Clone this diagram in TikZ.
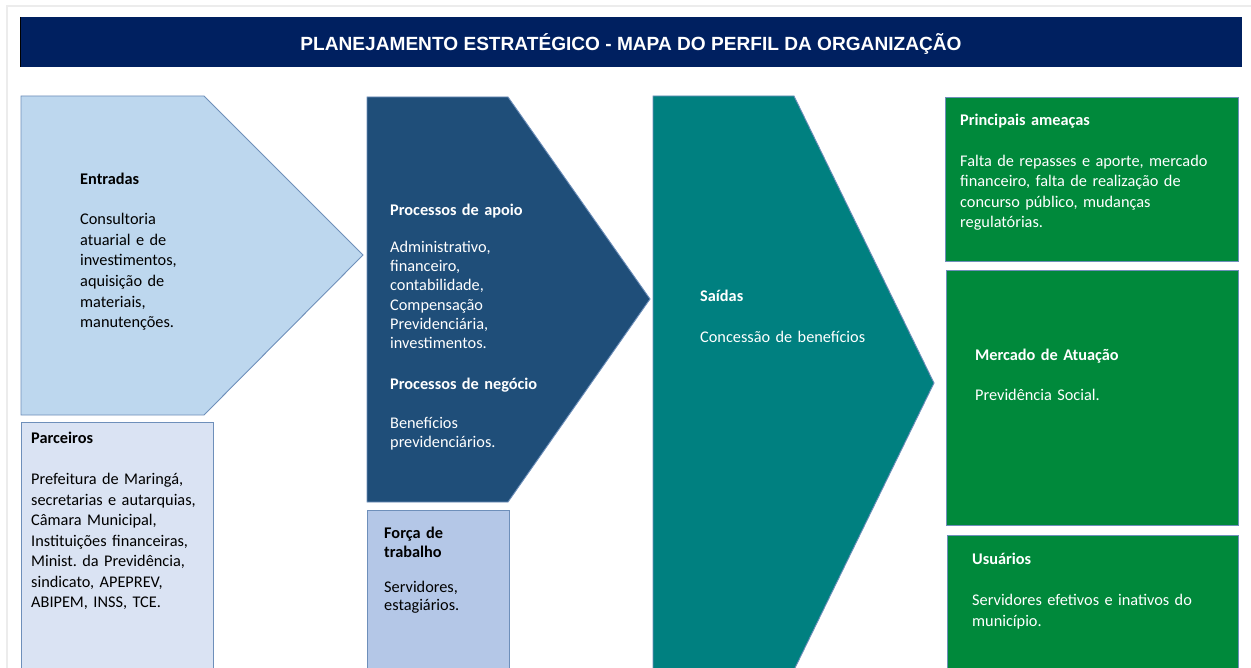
\documentclass[tikz,border=0pt]{standalone}
\usepackage{fontspec}
\setmainfont{Carlito}
\newfontfamily\titlefont{Liberation Sans}
\frenchspacing
\definecolor{titlebg}{RGB}{0,32,96}
\definecolor{bordc}{RGB}{110,143,186}
\definecolor{entfill}{RGB}{189,215,238}
\definecolor{parfill}{RGB}{218,227,243}
\definecolor{profill}{RGB}{31,78,121}
\definecolor{forfill}{RGB}{180,199,231}
\definecolor{saifill}{RGB}{0,128,128}
\definecolor{grnfill}{RGB}{0,137,59}
\definecolor{framec}{RGB}{236,236,236}
\tikzset{
  shp/.style={draw=bordc, line width=0.9pt},
  txt/.style={inner sep=0pt, anchor=base west, align=left, text width=290pt},
  dk/.style={txt, text=white},
  lt/.style={txt, text=black},
}
\begin{document}
\begin{tikzpicture}[x=1pt,y=-1pt]
\useasboundingbox[fill=white] (0,0) rectangle (1251,668);
\begin{scope}
\clip (0,0) rectangle (1251,668);
% outer frame
\draw[framec, line width=1.5pt] (7,680) -- (7,6) -- (1260,6);
% title bar
\fill[titlebg] (20,17) rectangle (1242,67);
\draw[black, line width=1.5pt] (20.5,17) -- (20.5,67);
\node[text=white, font=\titlefont\bfseries\fontsize{19.1}{22}\selectfont, inner sep=0pt] (title) at (631,43.5) {PLANEJAMENTO ESTRATÉGICO - MAPA DO PERFIL DA ORGANIZAÇÃO};
% Entradas arrow
\filldraw[shp, fill=entfill] (21,96) -- (204,96) -- (363,255) -- (204,415) -- (21,415) -- cycle;
% Parceiros
\filldraw[shp, fill=parfill] (21,422) rectangle (213,675);
% Processos arrow
\filldraw[shp, fill=profill] (367,97) -- (508,97) -- (650,299) -- (508,502) -- (367,502) -- cycle;
% Forca de trabalho
\filldraw[shp, fill=forfill] (367,510) rectangle (509,675);
% Saidas arrow
\filldraw[shp, fill=saifill] (653,96) -- (794,96) -- (934,383) -- (794,670) -- (653,670) -- cycle;
% green boxes
\filldraw[shp, fill=grnfill] (945,97) rectangle (1238,261);
\filldraw[shp, fill=grnfill] (946,270) rectangle (1238,525);
\filldraw[shp, fill=grnfill] (947,535) rectangle (1238,675);
\end{scope}
% texts
\node[lt, font=\fontsize{16.3}{20.7}\selectfont] (entradas) at (80,184.5)
  {\textbf{Entradas}\\[19.3pt]Consultoria\\atuarial e de\\investimentos,\\aquisição de\\materiais,\\manutenções.};
\node[lt, font=\fontsize{16.3}{20.5}\selectfont] (parceiros) at (31,443.5)
  {\textbf{Parceiros}\\[20.5pt]Prefeitura de Maringá,\\secretarias e autarquias,\\Câmara Municipal,\\Instituições financeiras,\\Minist. da Previdência,\\sindicato, APEPREV,\\ABIPEM, INSS, TCE.};
\node[dk, font=\fontsize{16.3}{19.2}\selectfont] (processos) at (390,215.5)
  {\textbf{Processos de apoio}\\[17.8pt]Administrativo,\\financeiro,\\contabilidade,\\Compensação\\Previdenciária,\\investimentos.\\[21.8pt]\textbf{Processos de negócio}\\[19.8pt]Benefícios\\previdenciários.};
\node[lt, font=\fontsize{16.3}{18.5}\selectfont] (forca) at (384,538.5)
  {\textbf{Força de}\\\textbf{trabalho}\\[16.5pt]Servidores,\\estagiários.};
\node[dk, font=\fontsize{16.3}{20.5}\selectfont] (saidas) at (700,301.5)
  {\textbf{Saídas}\\[20.5pt]Concessão de benefícios};
\node[dk, font=\fontsize{16.3}{20.4}\selectfont] (ameacas) at (960,125.5)
  {\textbf{Principais ameaças}\\[20.6pt]Falta de repasses e aporte, mercado\\financeiro, falta de realização de\\concurso público, mudanças\\regulatórias.};
\node[dk, font=\fontsize{16.3}{20.5}\selectfont] (mercado) at (975,360.5)
  {\textbf{Mercado de Atuação}\\[19.5pt]Previdência Social.};
\node[dk, font=\fontsize{16.3}{20.8}\selectfont] (usuarios) at (972,564.5)
  {\textbf{Usuários}\\[20.2pt]Servidores efetivos e inativos do\\município.};
\end{tikzpicture}
\end{document}
